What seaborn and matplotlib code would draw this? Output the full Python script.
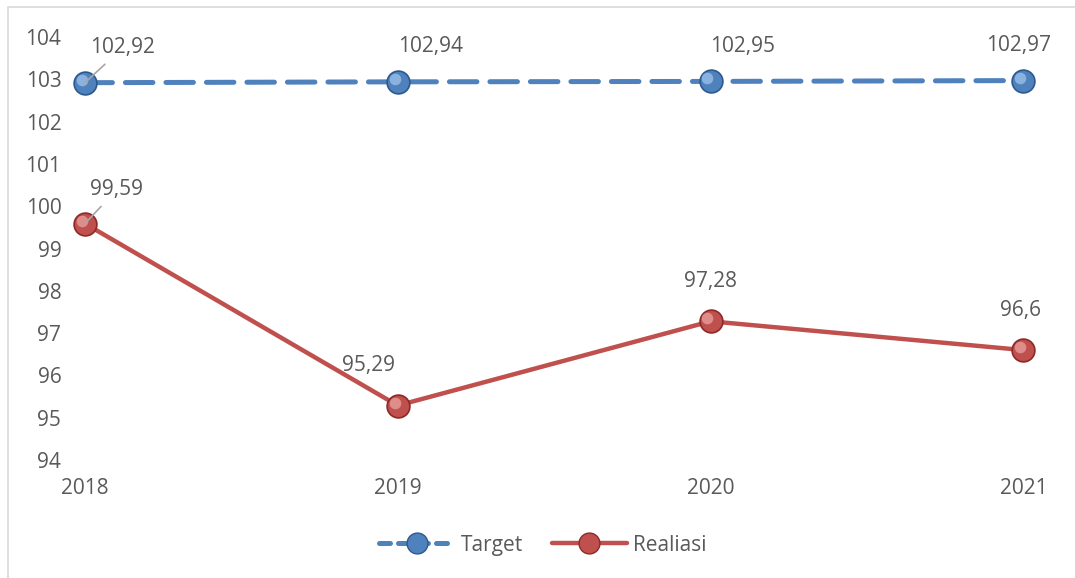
import matplotlib.pyplot as plt
import matplotlib.patches as mpatches
from matplotlib.lines import Line2D
import pandas as pd
import seaborn as sns

years = ['2018', '2019', '2020', '2021']
target = [102.92, 102.94, 102.95, 102.97]
realisasi = [99.59, 95.29, 97.28, 96.6]
target_labels = ['102,92', '102,94', '102,95', '102,97']
realisasi_labels = ['99,59', '95,29', '97,28', '96,6']
y_ticks = [94, 95, 96, 97, 98, 99, 100, 101, 102, 103, 104]

blue = '#4F81BD'
red = '#C0504D'
text_color = '#595959'
fs = 15

sns.set_style('white')
plt.rcParams['font.family'] = ['Open Sans', 'DejaVu Sans']

df = pd.DataFrame({'x': range(len(years)), 'target': target, 'realisasi': realisasi})

fig = plt.figure(figsize=(10.75, 5.78), dpi=100)
ax = fig.add_axes([0.079, 0.204, 0.873, 0.732])

# chart border
fig.patches.append(mpatches.Rectangle((8 / 1075, -0.01), 1.1, 1 - 7 / 578 + 0.01,
                                      transform=fig.transFigure, fill=False,
                                      edgecolor='#D9D9D9', linewidth=1.2))

sns.lineplot(data=df, x='x', y='target', ax=ax, color=blue, linewidth=3.6, zorder=2)
ax.lines[-1].set_dashes([5.5, 2.6])
ax.lines[-1].set_dash_capstyle('round')
sns.lineplot(data=df, x='x', y='realisasi', ax=ax, color=red, linewidth=3.2, zorder=2)


def spheres(xs, ys, base, dark, light):
    ax.scatter(xs, ys, s=310, color=dark, zorder=3, linewidths=0, clip_on=False)
    ax.scatter(xs, ys, s=230, color=base, zorder=4, linewidths=0, clip_on=False)
    ax.scatter([x - 0.01 for x in xs], [y + 0.07 for y in ys], s=70,
               color=light, zorder=5, linewidths=0, alpha=0.75, clip_on=False)


spheres(df['x'], target, blue, '#2C5A8F', '#9DC3EC')
spheres(df['x'], realisasi, red, '#8C2A28', '#EAA3A1')

# data labels
t_off = [(38, 35), (33, 35), (32, 35), (-5, 35)]
r_off = [(32, 34), (-29, 40), (0, 40), (-3, 40)]
for i in range(len(years)):
    arrow = dict(arrowstyle='-', color='#A6A6A6', lw=1.2,
                 shrinkA=3, shrinkB=0) if i == 0 else None
    ax.annotate(target_labels[i], (i, target[i]), xytext=t_off[i],
                textcoords='offset pixels', ha='center', va='center',
                fontsize=fs, color=text_color, arrowprops=arrow, zorder=6)
    ax.annotate(realisasi_labels[i], (i, realisasi[i]), xytext=r_off[i],
                textcoords='offset pixels', ha='center', va='center',
                fontsize=fs, color=text_color, arrowprops=arrow, zorder=6)

ax.set_xlim(0, len(years) - 1)
ax.set_ylim(94, 104)
ax.set_xticks(range(len(years)))
ax.set_xticklabels(years)
ax.set_yticks(y_ticks)
ax.tick_params(axis='both', length=0, labelsize=fs, labelcolor=text_color)
ax.tick_params(axis='y', pad=17)
ax.tick_params(axis='x', pad=13)
ax.set_xlabel('')
ax.set_ylabel('')
sns.despine(ax=ax, left=True, bottom=True)

handles = [
    Line2D([0], [0], color=blue, lw=3.6, dashes=[2.2, 1.6], dash_capstyle='round',
           marker='o', markersize=15, markerfacecolor=blue, markeredgecolor='#2C5A8F'),
    Line2D([0], [0], color=red, lw=3.2, marker='o', markersize=15,
           markerfacecolor=red, markeredgecolor='#8C2A28'),
]
fig.legend(handles, ['Target', 'Realiasi'], loc='center', bbox_to_anchor=(0.505, 0.057),
           ncol=2, frameon=False, fontsize=fs, labelcolor=text_color,
           handlelength=3.6, columnspacing=1.4, handletextpad=0.3)

fig.savefig('out.png', dpi=100)
